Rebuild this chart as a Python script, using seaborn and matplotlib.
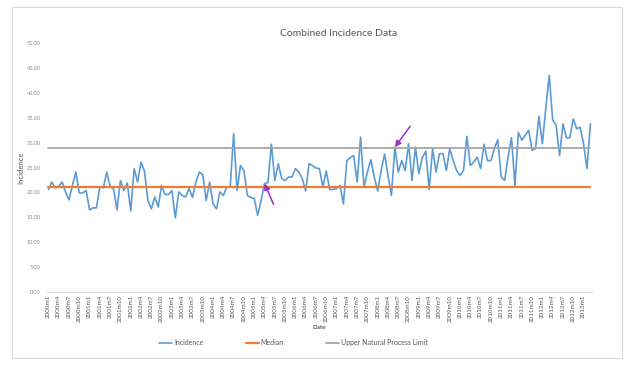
import numpy as np
import pandas as pd
import seaborn as sns
import matplotlib.pyplot as plt
from matplotlib.patches import Rectangle

# monthly incidence, 2000m1 .. 2013m3
incidence = [
    20.6, 22.1, 20.9, 21.2, 22.1, 20.1, 18.5, 21.4, 24.1, 19.9, 19.9, 20.4,
    16.5, 16.9, 16.9, 21.2, 20.9, 24.1, 21.2, 20.7, 16.5, 22.4, 20.4, 21.9,
    16.3, 24.8, 22.1, 26.1, 24.3, 18.4, 16.7, 19.1, 17.1, 21.4, 19.6, 19.6,
    20.4, 14.9, 20.1, 19.4, 19.1, 20.8, 19.0, 22.1, 24.1, 23.6, 18.4, 22.1,
    17.7, 16.7, 20.1, 19.4, 21.1, 21.1, 31.8, 20.4, 25.4, 24.4, 19.4, 19.0,
    18.8, 15.4, 18.4, 21.8, 22.0, 29.7, 22.4, 25.8, 22.8, 22.4, 23.1, 23.1,
    24.8, 24.1, 22.8, 20.3, 25.8, 25.4, 24.9, 24.8, 21.1, 24.3, 20.6, 20.6,
    20.8, 21.4, 17.7, 26.4, 27.0, 27.4, 22.1, 31.1, 21.1, 24.1, 26.6, 23.1,
    20.3, 24.4, 27.7, 23.4, 19.4, 29.1, 24.1, 26.4, 24.4, 29.8, 22.4, 29.1,
    23.8, 27.0, 28.3, 20.6, 28.8, 24.1, 27.8, 27.8, 24.4, 28.8, 26.4, 24.4,
    23.4, 24.4, 31.3, 25.4, 26.1, 27.1, 24.8, 29.7, 26.4, 26.4, 28.8, 30.6,
    23.1, 22.4, 27.1, 31.0, 21.4, 32.1, 30.5, 31.5, 32.5, 28.5, 28.8, 35.3,
    29.8, 37.0, 43.5, 34.6, 33.5, 27.4, 33.8, 31.0, 31.0, 34.8, 32.8, 33.1,
    29.8, 24.8, 33.8,
]
median_value = 21.15
upper_limit = 28.9

dates = [f"{2000 + i // 12}m{i % 12 + 1}" for i in range(len(incidence))]
tick_every = 3
y_ticks = [0, 5, 10, 15, 20, 25, 30, 35, 40, 45, 50]

# points the purple arrows mark
arrow_dates = ["2005m4", "2008m6"]

df = pd.DataFrame({
    "idx": np.arange(len(incidence)),
    "Date": dates,
    "Incidence": incidence,
    "Median": [median_value] * len(incidence),
    "Upper Natural Process Limit": [upper_limit] * len(incidence),
})

sns.set_style("white")
plt.rcParams['font.family'] = ['Lato', 'DejaVu Sans']

fig = plt.figure(figsize=(6.36, 3.72), dpi=100)
ax = fig.add_axes([0.0734, 0.215, 0.8576, 0.669])

sns.lineplot(data=df, x="idx", y="Incidence", color="#5B9BD5", linewidth=1.2,
             label="Incidence", ax=ax)
sns.lineplot(data=df, x="idx", y="Median", color="#ED7D31", linewidth=1.6,
             label="Median", ax=ax)
sns.lineplot(data=df, x="idx", y="Upper Natural Process Limit", color="#A5A5A5",
             linewidth=1.3, label="Upper Natural Process Limit", ax=ax)

ax.set_xlim(-0.5, len(incidence) - 0.5)
ax.set_ylim(0, 50)
ax.set_yticks(y_ticks)
ax.set_yticklabels([f"{v:.2f}" for v in y_ticks], fontsize=4, color="#8c8c8c")
ax.set_xticks(df["idx"][::tick_every])
ax.set_xticklabels(df["Date"][::tick_every], rotation=90, fontsize=4.5,
                   color="#595959")
ax.tick_params(axis="both", length=0, pad=4.5)
ax.tick_params(axis="x", pad=2)

for s in ["top", "right", "left"]:
    ax.spines[s].set_visible(False)
ax.spines["bottom"].set_color("#d9d9d9")
ax.spines["bottom"].set_linewidth(0.8)

ax.set_xlabel("Date", fontsize=4.5, color="#595959", fontweight="bold", labelpad=2)
ax.set_ylabel("Incidence", fontsize=5.5, color="#595959", labelpad=1.5)
ax.set_title("Combined Incidence Data", fontsize=7.5, color="#595959", pad=5,
             x=0.536)

# purple arrows
offsets = [(6.5, -15), (11, 15)]
for d, off in zip(arrow_dates, offsets):
    i = dates.index(d)
    ax.annotate("", xy=(i, incidence[i]), xytext=off, textcoords="offset points",
                arrowprops=dict(arrowstyle="-|>", color="#9b30c8", lw=1.1,
                                mutation_scale=9, shrinkA=0, shrinkB=0))

ax.get_legend().remove()
handles, labels = ax.get_legend_handles_labels()
leg = fig.legend(handles, labels, loc="center", bbox_to_anchor=(0.4615, 0.078),
                 ncol=3, frameon=False, fontsize=5, handlelength=1.9,
                 handletextpad=0.3, columnspacing=6)
for t in leg.get_texts():
    t.set_color("#595959")

# light chart frame
fig.patches.append(Rectangle((12 / 636, 1 - 358 / 372), 610 / 636, 351 / 372,
                             transform=fig.transFigure, fill=False,
                             edgecolor="#d9d9d9", linewidth=0.8))

plt.savefig("out.png", dpi=100)
